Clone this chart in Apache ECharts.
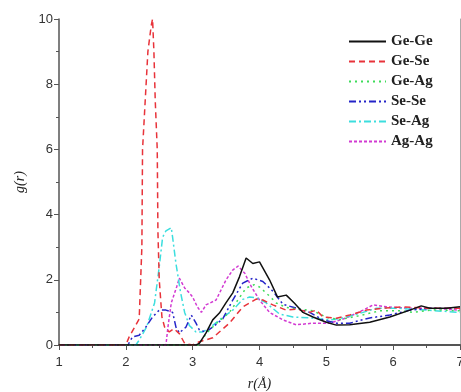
<!DOCTYPE html>
<html>
<head>
<meta charset="utf-8">
<script src="https://cdn.jsdelivr.net/npm/echarts@6/dist/echarts.min.js"></script>
<style>
  html, body { margin: 0; padding: 0; background: #fff; }
  #chart { width: 461px; height: 392px; }
</style>
</head>
<body>
<div id="chart"></div>
<script>
// g(r) pair distribution curves as [r, g(r)]
const geGe = [[1,0],[3.05,0],[3.1,0.05],[3.2,0.37],[3.3,0.77],[3.4,0.98],[3.5,1.3],[3.6,1.6],[3.7,2.09],[3.8,2.67],[3.9,2.5],[4.0,2.55],[4.15,2.0],[4.27,1.47],[4.4,1.53],[4.52,1.29],[4.65,1.0],[4.8,0.86],[5.0,0.7],[5.15,0.61],[5.35,0.62],[5.65,0.7],[5.95,0.86],[6.25,1.07],[6.42,1.2],[6.55,1.13],[6.8,1.13],[7,1.17]];
const geSe = [[1,0],[2.0,0],[2.05,0.25],[2.2,0.8],[2.24,3],[2.25,6],[2.29,7.5],[2.33,9],[2.38,9.8],[2.4,10],[2.42,9],[2.44,7.5],[2.47,6],[2.48,3.5],[2.5,2],[2.54,0.86],[2.58,0.55],[2.65,0.4],[2.72,0.5],[2.8,0.35],[2.88,0.05],[3.0,0],[3.1,0.1],[3.3,0.22],[3.55,0.67],[3.75,1.17],[3.95,1.41],[4.05,1.38],[4.2,1.23],[4.4,1.07],[4.55,1.1],[4.75,1.0],[4.85,1.07],[4.95,0.86],[5.15,0.82],[5.35,0.92],[5.6,1.07],[5.85,1.13],[6.15,1.17],[6.5,1.13],[7,1.13]];
const geAg = [[1,0],[3.1,0],[3.2,0.35],[3.35,0.65],[3.55,1.0],[3.7,1.45],[3.8,1.75],[3.92,1.85],[4.0,1.78],[4.15,1.5],[4.25,1.29],[4.4,1.15],[4.6,1.1],[4.8,1.05],[5.0,0.85],[5.2,0.78],[5.5,0.9],[5.8,1.05],[6.1,1.05],[6.3,1.0],[6.6,1.08],[7,1.05]];
const seSe = [[1,0],[2.03,0],[2.1,0.25],[2.2,0.3],[2.3,0.55],[2.4,0.86],[2.5,1.07],[2.6,1.07],[2.7,1.0],[2.75,0.55],[2.8,0.37],[2.9,0.55],[2.98,0.92],[3.05,0.67],[3.1,0.46],[3.2,0.4],[3.3,0.55],[3.45,0.8],[3.6,1.38],[3.75,1.9],[3.9,2.05],[4.05,1.95],[4.2,1.65],[4.35,1.25],[4.55,1.13],[4.75,1.0],[4.95,0.77],[5.15,0.67],[5.35,0.67],[5.65,0.83],[5.95,0.92],[6.25,1.07],[6.55,1.13],[7,1.13]];
const seAg = [[1,0],[2.15,0],[2.2,0.15],[2.31,0.55],[2.43,1.29],[2.5,2.4],[2.55,3.3],[2.6,3.5],[2.68,3.6],[2.7,3.3],[2.75,2.5],[2.82,1.6],[2.88,1.0],[2.95,0.6],[3.05,0.4],[3.15,0.4],[3.3,0.6],[3.45,0.85],[3.6,1.07],[3.75,1.4],[3.85,1.47],[3.95,1.45],[4.1,1.29],[4.3,0.95],[4.5,0.86],[4.75,0.83],[5.05,0.77],[5.25,0.83],[5.55,1.0],[5.75,1.13],[6.05,1.13],[6.5,1.07],[7,1.0]];
const agAg = [[1,0],[2.6,0],[2.63,0.55],[2.68,1.29],[2.76,1.78],[2.8,2.05],[2.88,1.75],[2.95,1.6],[3.0,1.47],[3.07,1.17],[3.13,1.0],[3.2,1.23],[3.35,1.38],[3.5,2.0],[3.6,2.3],[3.68,2.42],[3.78,2.2],[3.88,1.78],[4.0,1.38],[4.15,1.0],[4.35,0.77],[4.55,0.62],[4.8,0.67],[5.05,0.67],[5.3,0.83],[5.55,1.07],[5.7,1.23],[5.9,1.17],[6.2,1.13],[6.55,1.13],[7,1.07]];

const seriesNames = ["Ge-Ge", "Ge-Se", "Ge-Ag", "Se-Se", "Se-Ag", "Ag-Ag"];
const seriesData = [geGe, geSe, geAg, seSe, seAg, agAg];
const colors = ["#111111", "#e8333a", "#3fdc5a", "#2424c8", "#3cdede", "#d23ad2"];
const dashes = ["solid", [6, 4], [2, 4], [7, 3, 2, 3, 2, 3], [7, 3, 2, 3], [3, 2]];

const chart = echarts.init(document.getElementById("chart"));

const axisLine = { show: true, lineStyle: { color: "#555", width: 1.5 } };

chart.setOption({
  animation: false,
  grid: { left: 59, right: 1, top: 19, bottom: 47, outerBoundsMode: "none", containLabel: false },
  legend: {
    orient: "vertical",
    left: 343,
    top: 29,
    itemWidth: 37,
    itemHeight: 14,
    itemGap: 5,
    itemStyle: { opacity: 0 },
    textStyle: { fontFamily: "Liberation Serif", fontWeight: "bold", fontSize: 15, color: "#222" },
    data: seriesNames
  },
  xAxis: [
    {
      type: "value",
      min: 1,
      max: 7,
      interval: 1,
      name: "r(Å)",
      nameLocation: "middle",
      nameGap: 32,
      nameTextStyle: { fontFamily: "Liberation Serif", fontStyle: "italic", fontSize: 14, color: "#222" },
      axisLine: axisLine,
      axisTick: { show: true, length: 5, lineStyle: { color: "#555" } },
      minorTick: { show: true, splitNumber: 2, length: 3, lineStyle: { color: "#555" } },
      axisLabel: { fontFamily: "Liberation Sans", fontSize: 13, color: "#333", margin: 11 },
      splitLine: { show: false }
    },
    {
      type: "value",
      position: "top",
      min: 1,
      max: 7,
      axisLine: { show: true, lineStyle: { color: "#555", width: 2 } },
      axisTick: { show: false },
      axisLabel: { show: false },
      splitLine: { show: false }
    }
  ],
  yAxis: [
    {
      type: "value",
      min: 0,
      max: 10,
      interval: 2,
      name: "g(r)",
      nameLocation: "middle",
      nameGap: 32,
      nameTextStyle: { fontFamily: "Liberation Serif", fontStyle: "italic", fontSize: 14, color: "#222" },
      axisLine: axisLine,
      axisTick: { show: true, length: 5, lineStyle: { color: "#555" } },
      minorTick: { show: true, splitNumber: 2, length: 3, lineStyle: { color: "#555" } },
      axisLabel: { fontFamily: "Liberation Sans", fontSize: 13, color: "#333", margin: 6 },
      splitLine: { show: false }
    },
    {
      type: "value",
      position: "right",
      min: 0,
      max: 10,
      axisLine: { show: true, lineStyle: { color: "#aaa", width: 1 } },
      axisTick: { show: false },
      axisLabel: { show: false },
      splitLine: { show: false }
    }
  ],
  series: seriesNames.map((name, i) => ({
    name: name,
    type: "line",
    data: seriesData[i],
    symbol: "none",
    smooth: false,
    z: 10 - i,
    itemStyle: { color: colors[i] },
    lineStyle: { color: colors[i], width: 1.5, type: dashes[i] }
  }))
});
</script>
</body>
</html>
